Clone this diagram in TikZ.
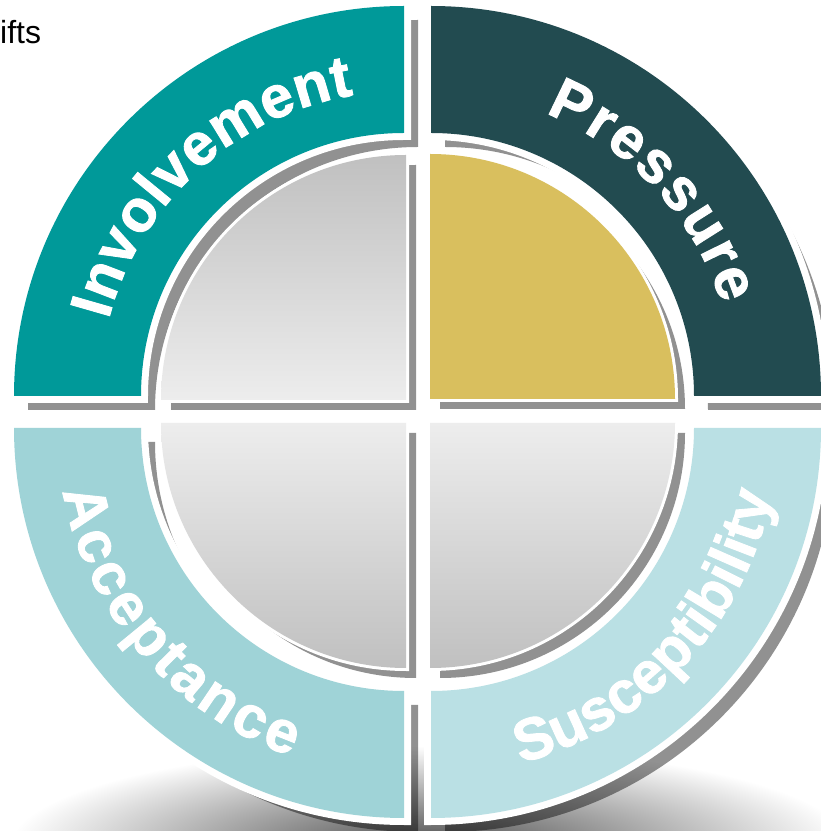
\documentclass[tikz,border=0pt]{standalone}
\usepackage{fontspec}
\setmainfont{Liberation Sans}
\newfontfamily\ringfont{Liberation Sans}[BoldFeatures={FakeBold=1.5}]
\usetikzlibrary{decorations.text}
\definecolor{cTL}{HTML}{009999}
\definecolor{cTR}{HTML}{224B50}
\definecolor{cBL}{HTML}{9FD3D7}
\definecolor{cBR}{HTML}{BAE0E4}
\definecolor{cGold}{HTML}{D9BF5E}
\definecolor{shd}{HTML}{919191}
\definecolor{gDark}{HTML}{C0C0C0}
\definecolor{gLight}{HTML}{EDEDED}
\newcommand\ringtxt{\ringfont\fontsize{59}{61}\selectfont\bfseries\color{white}}
\newcommand\ringsec[2]{(#1:390) arc[start angle=#1,end angle=#2,radius=390] -- (#2:263) arc[start angle=#2,end angle=#1,radius=263] -- cycle}
\newcommand\quarterdisc[2]{(0,0) -- (#1:245) arc[start angle=#1,end angle=#2,radius=245] -- cycle}
\begin{document}
\begin{tikzpicture}[x=1pt,y=1pt,
  ringshadow/.style={fill=black, fill opacity=0.43},
  ringwhite/.style={fill=white, draw=white, line width=14pt, line join=miter},
  innershadow/.style={fill=shd},
  innerwhite/.style={fill=white, draw=white, line width=6pt, line join=miter},
  ringlabel/.style={decorate, decoration={text along path, text align=fit to path, text={|\ringtxt|#1}}}
]
\useasboundingbox (0,0) rectangle (821,831);
\fill[white] (0,0) rectangle (821,831);
\begin{scope}
\clip (0,0) rectangle (821,831);
% soft shadow under the circle
\shade[inner color=black!70, outer color=white] (430,-15) ellipse[x radius=420, y radius=100];
% ring shadows
\path[ringshadow, shift={(418,421)}] \ringsec{90}{180};
\path[ringshadow, shift={(445,421)}] \ringsec{0}{90};
\path[ringshadow, shift={(418,389)}] \ringsec{180}{270};
\path[ringshadow, shift={(445,389)}] \ringsec{270}{360};
% rings
\path[ringwhite, shift={(404,435)}] \ringsec{90}{180};
\path[ringwhite, shift={(431,435)}] \ringsec{0}{90};
\path[ringwhite, shift={(404,403)}] \ringsec{180}{270};
\path[ringwhite, shift={(431,403)}] \ringsec{270}{360};
\path[fill=cTL, shift={(404,435)}] \ringsec{90}{180};
\path[fill=cTR, shift={(431,435)}] \ringsec{0}{90};
\path[fill=cBL, shift={(404,403)}] \ringsec{180}{270};
\path[fill=cBR, shift={(431,403)}] \ringsec{270}{360};
% inner shadows
\path[innershadow, shift={(416,421)}] \quarterdisc{90}{180};
\path[innershadow, shift={(440,422)}] \quarterdisc{0}{90};
\path[innershadow, shift={(416,398)}] \quarterdisc{180}{270};
\path[innershadow, shift={(440,398)}] \quarterdisc{270}{360};
% inner quarters
\path[innerwhite, shift={(406,431)}] \quarterdisc{90}{180};
\path[innerwhite, shift={(430,432)}] \quarterdisc{0}{90};
\path[innerwhite, shift={(406,408)}] \quarterdisc{180}{270};
\path[innerwhite, shift={(430,408)}] \quarterdisc{270}{360};
\shade[top color=gDark, bottom color=gLight, shift={(406,431)}] \quarterdisc{90}{180};
\path[fill=cGold, shift={(430,432)}] \quarterdisc{0}{90};
\shade[top color=gLight, bottom color=gDark, shift={(406,408)}] \quarterdisc{180}{270};
\shade[top color=gLight, bottom color=gDark, shift={(430,408)}] \quarterdisc{270}{360};
% labels
\path[ringlabel=Involvement, shift={(404,435)}] (165.5:305) arc[start angle=165.5,end angle=99.5,radius=305];
\path[ringlabel=Pressure, shift={(431,435)}] (68:305) arc[start angle=68,end angle=17.5,radius=305];
\path[ringlabel=Acceptance, shift={(404,403)}] (190.5:347) arc[start angle=190.5,end angle=251,radius=347];
\path[ringlabel=Susceptibility, shift={(431,403)}] (285:347) arc[start angle=285,end angle=349,radius=347];
\node[anchor=base west, inner sep=0, font=\fontsize{32}{32}\selectfont] (ifts) at (0,787) {ifts};
\end{scope}
\end{tikzpicture}
\end{document}
